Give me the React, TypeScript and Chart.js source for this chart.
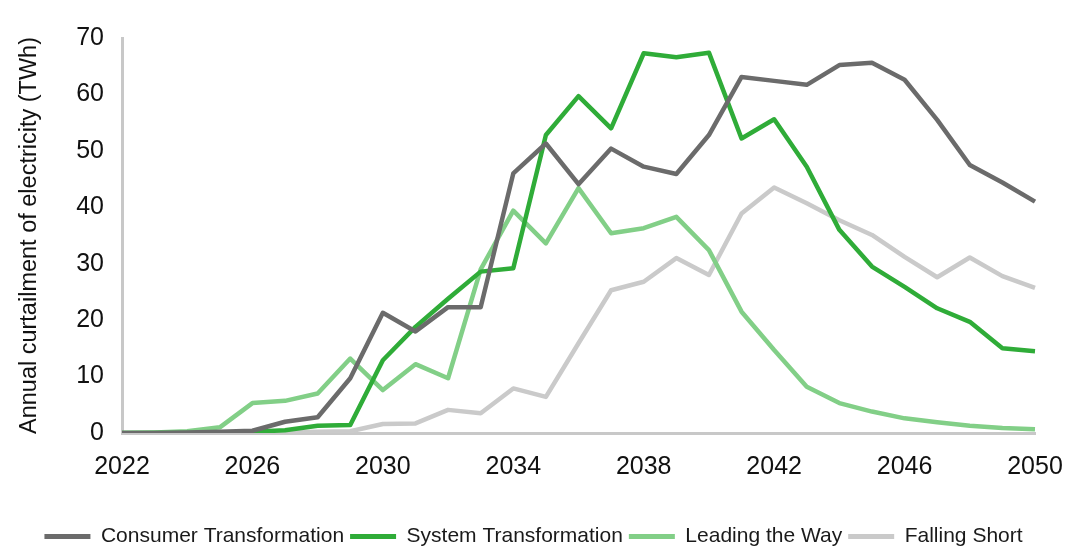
import React, { useEffect, useRef } from "react";
import { Chart, registerables } from "chart.js";

Chart.register(...registerables);

const years = [
  "2022", "2023", "2024", "2025", "2026", "2027", "2028", "2029", "2030", "2031",
  "2032", "2033", "2034", "2035", "2036", "2037", "2038", "2039", "2040", "2041",
  "2042", "2043", "2044", "2045", "2046", "2047", "2048", "2049", "2050",
];

const consumerTransformation = [
  0, 0, 0.1, 0.2, 0.4, 2.0, 2.8, 9.7, 21.3, 18.0, 22.3, 22.3, 46.0, 51.3, 44.1,
  50.4, 47.2, 45.9, 52.8, 63.1, 62.4, 61.7, 65.2, 65.6, 62.6, 55.5, 47.5, 44.4, 41.0,
];
const systemTransformation = [
  0, 0, 0, 0, 0.2, 0.5, 1.3, 1.4, 12.9, 18.8, 23.8, 28.6, 29.2, 52.8, 59.7,
  54.0, 67.3, 66.6, 67.4, 52.2, 55.6, 47.2, 36.0, 29.5, 25.9, 22.1, 19.7, 15.0, 14.5,
];
const leadingTheWay = [
  0, 0.1, 0.3, 1.0, 5.3, 5.7, 7.0, 13.2, 7.6, 12.2, 9.7, 29.0, 39.4, 33.6, 43.4,
  35.4, 36.3, 38.3, 32.4, 21.5, 14.7, 8.2, 5.3, 3.8, 2.6, 1.9, 1.3, 0.9, 0.65,
];
const fallingShort = [
  0, 0, 0, 0, 0, 0.1, 0.2, 0.3, 1.6, 1.7, 4.1, 3.5, 7.9, 6.4, 15.9, 25.3, 26.8,
  31.0, 28.0, 38.9, 43.5, 40.7, 37.7, 35.1, 31.2, 27.6, 31.1, 27.8, 25.7,
];

const seriesNames = [
  "Consumer Transformation",
  "System Transformation",
  "Leading the Way",
  "Falling Short",
];
const seriesColors = ["#6b6b6b", "#2fac38", "#82cf87", "#cacaca"];
const yTitle = "Annual curtailment of electricity (TWh)";
const FONT = "'Liberation Sans', Arial, sans-serif";

export default function App() {
  const ref = useRef<HTMLCanvasElement | null>(null);

  useEffect(() => {
    document.body.style.margin = "0";
    const canvas = ref.current;
    if (!canvas) return;
    const values = [consumerTransformation, systemTransformation, leadingTheWay, fallingShort];
    const chart = new Chart(canvas, {
      type: "line",
      data: {
        labels: years,
        datasets: values.map((v, i) => ({
          label: seriesNames[i],
          data: v,
          borderColor: seriesColors[i],
          backgroundColor: seriesColors[i],
          borderWidth: 4.5,
          pointRadius: 0,
          pointHoverRadius: 0,
          tension: 0,
          fill: false,
          borderJoinStyle: "round" as const,
        })),
      },
      options: {
        animation: false,
        responsive: false,
        maintainAspectRatio: false,
        layout: { padding: { left: 0, right: 0, top: 38, bottom: -8 } },
        plugins: {
          tooltip: { enabled: false },
          legend: {
            position: "bottom",
            labels: {
              usePointStyle: true,
              pointStyle: "line",
              pointStyleWidth: 46,
              boxHeight: 21,
              padding: 6,
              color: "#1a1a1a",
              font: { family: FONT, size: 21 },
              generateLabels: (c: any) =>
                c.data.datasets.map((d: any, i: number) => ({
                  text: d.label,
                  fillStyle: d.borderColor,
                  strokeStyle: d.borderColor,
                  lineWidth: 5,
                  pointStyle: "line",
                  hidden: false,
                  datasetIndex: i,
                  fontColor: "#1a1a1a",
                })),
            },
          },
        },
        scales: {
          x: {
            type: "category",
            offset: false,
            grid: { display: false, drawTicks: false },
            border: { display: true, color: "#c8c8c8", width: 3 },
            ticks: {
              autoSkip: false,
              maxRotation: 0,
              padding: 19,
              color: "#111111",
              font: { family: FONT, size: 25 },
              callback: (_v: any, i: number) => ((i % 4 === 0) ? years[i] : ""),
            },
            afterFit: (s: any) => {
              s.height = 87;
              s.paddingRight = 32;
              s.paddingLeft = 0;
            },
          },
          y: {
            min: 0,
            max: 70,
            grid: { display: false, drawTicks: false },
            border: { display: true, color: "#c8c8c8", width: 3 },
            ticks: {
              stepSize: 10,
              padding: 18,
              color: "#111111",
              font: { family: FONT, size: 25 },
            },
            title: {
              display: true,
              text: yTitle,
              color: "#111111",
              font: { family: FONT, size: 23.5 },
              padding: { top: 15, bottom: 0 },
            },
            afterFit: (s: any) => {
              s.width = 122;
            },
          },
        },
      },
    });
    return () => chart.destroy();
  }, []);

  return (
    <div style={{ position: "fixed", left: 0, top: 0, width: 1067, height: 549, background: "#fff" }}>
      <canvas ref={ref} width={1067} height={549} style={{ width: 1067, height: 549 }} />
    </div>
  );
}
